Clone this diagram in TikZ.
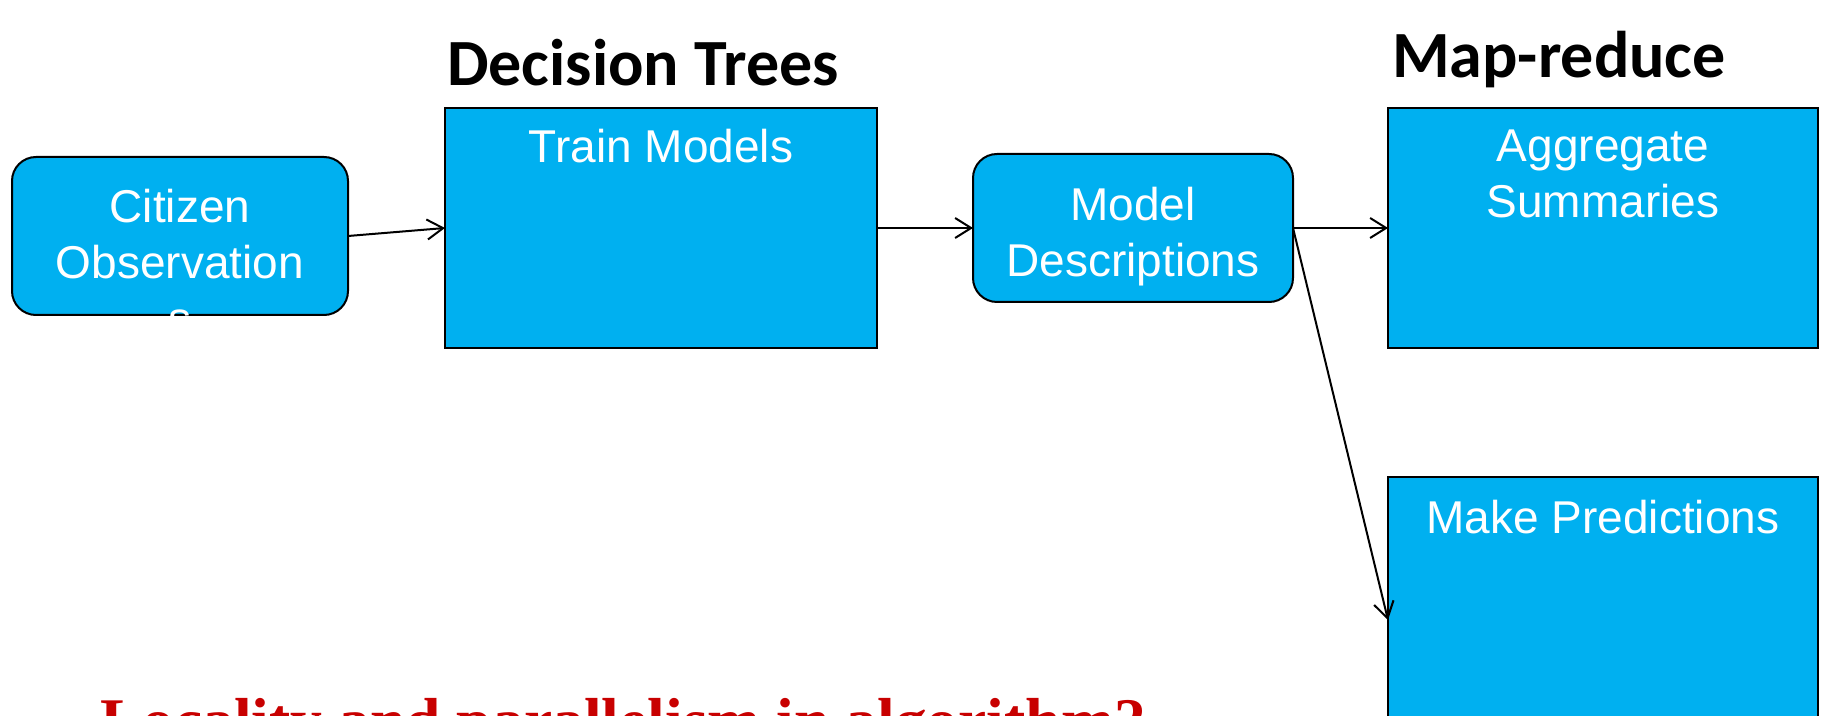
\documentclass[tikz,border=0pt]{standalone}
\usepackage{fontspec}
\setmainfont{Liberation Sans}
\newfontfamily\titlefont{Carlito}
\newfontfamily\notefont{Liberation Serif}
\usetikzlibrary{arrows.meta}

\definecolor{boxblue}{RGB}{0,176,240}
\definecolor{notered}{RGB}{200,0,0}

\tikzset{every picture/.style={line width=1pt}}
\tikzset{
  flowbox/.style={draw=black, fill=boxblue, inner sep=0pt, outer sep=0pt},
  roundbox/.style={flowbox, rounded corners=12pt},
  boxtext/.style={text=white, font=\fontsize{23}{28}\selectfont, align=center, inner sep=0pt},
  headtext/.style={font=\titlefont\bfseries\fontsize{33}{40}\selectfont, inner sep=0pt},
  flowarrow/.style={-{Straight Barb[length=8pt,width=10pt]}},
}

\begin{document}
\begin{tikzpicture}[x=0.5pt,y=0.5pt,yscale=-1,xscale=1]
\useasboundingbox (0,0) rectangle (1825,716);
\fill[white] (0,0) rectangle (1825,716);

% Titles
\node[headtext, anchor=base] (dtitle) at (643,86) {Decision Trees};
\node[headtext, anchor=base] (mtitle) at (1559,78) {Map-reduce};

% Shapes
\node[roundbox, minimum width=168pt, minimum height=79pt] (cit) at (180,236) {};
\node[flowbox, minimum width=216pt, minimum height=120pt] (train) at (661,228) {};
\node[roundbox, minimum width=160pt, minimum height=74pt] (mdesc) at (1133,228) {};
\node[flowbox, minimum width=215pt, minimum height=120pt] (agg) at (1603,228) {};
\node[flowbox, minimum width=215pt, minimum height=143pt] (pred) at (1603,620) {};

% Text Nodes
\node[boxtext, anchor=north] (citlabel) at (180,188) {Citizen\\Observation\\s};
\node[boxtext, anchor=base] (trainlabel) at (661,163) {Train Models};
\node[boxtext, anchor=north] (mdesclabel) at (1133,186) {Model\\Descriptions};
\node[boxtext, anchor=north] (agglabel) at (1603,129) {Aggregate\\Summaries};
\node[boxtext, anchor=base] (predlabel) at (1603,533) {Make Predictions};

% Connectors
\draw[flowarrow] (cit.east) -- (train.west);
\draw[flowarrow] (train.east) -- (mdesc.west);
\draw[flowarrow] (mdesc.east) -- (agg.west);
\draw[flowarrow] (mdesc.east) -- (pred.west);

% Note (cut off at the bottom)
\node[anchor=base west, inner sep=0pt, text=notered, font=\notefont\bfseries\fontsize{31.8}{38}\selectfont] (note) at (99,742) {Locality and parallelism in algorithm?};

\end{tikzpicture}
\end{document}
